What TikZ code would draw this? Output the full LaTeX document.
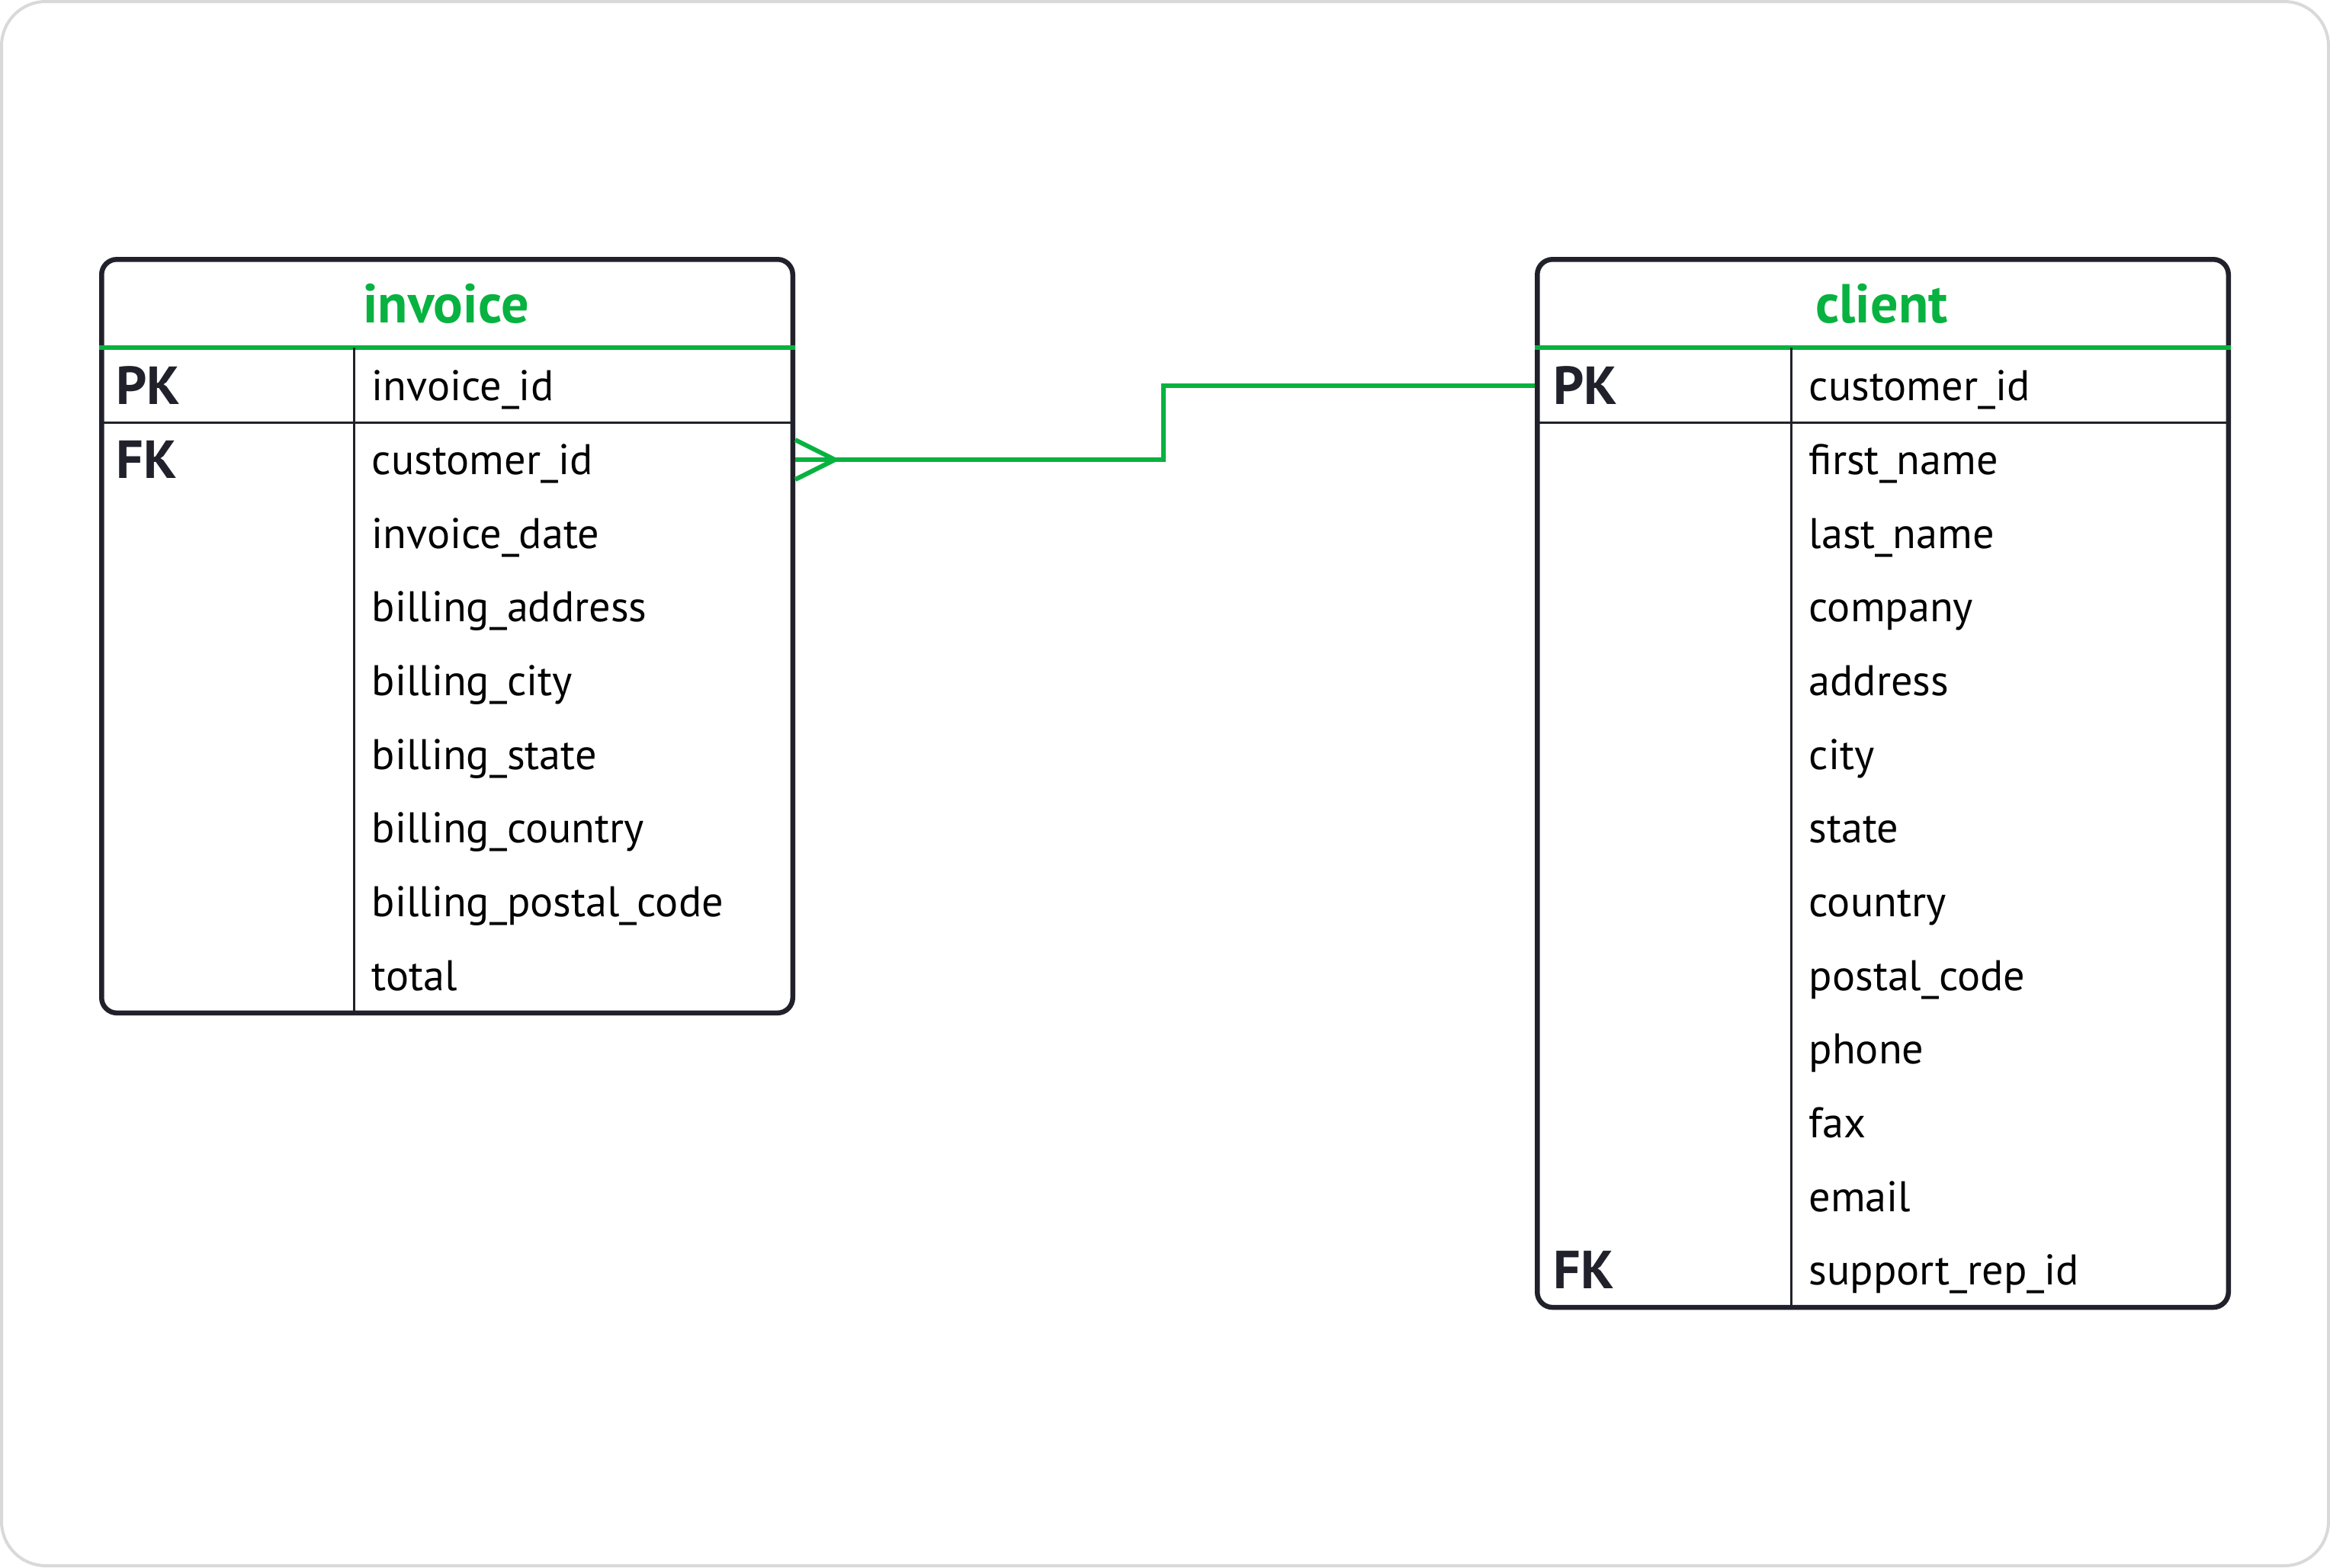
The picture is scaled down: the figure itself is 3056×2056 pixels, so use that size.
\documentclass[tikz,border=0pt]{standalone}
\usepackage{fontspec}
\setmainfont{PT Sans}
\definecolor{ergreen}{RGB}{8,178,64}
\definecolor{erink}{RGB}{33,33,43}
\definecolor{erframe}{RGB}{217,217,217}

\begin{document}
\begin{tikzpicture}[x=0.01cm,y=-0.01cm,font=\fontsize{16}{19}\selectfont,
	tablebox/.style={draw=erink,line width=0.065cm,rounded corners=0.2cm,inner sep=0pt,anchor=north west},
	rule/.style={erink,line width=0.03cm},
	headrule/.style={ergreen,line width=0.06cm},
	title/.style={anchor=base,text=ergreen,font=\fontsize{20.5}{24}\selectfont\bfseries},
	key/.style={anchor=west,inner sep=0pt,text depth=0pt,text=erink,font=\fontsize{20}{24}\selectfont\bfseries},
	field/.style={anchor=base west,inner sep=0pt,text=black},
	link/.style={ergreen,line width=0.06cm}]
\useasboundingbox (0,0) rectangle (3056,2056);
\draw[erframe,line width=0.04cm,rounded corners=0.58cm] (2,2) rectangle (3054,2054);

% invoice
\node[tablebox,minimum width=9.06cm,minimum height=9.88cm] (invoice) at (130,337) {};
\node[title] (invtitle) at (585,423) {invoice};
\draw[headrule] (invoice.west |- 0,456) -- (invoice.east |- 0,456);
\draw[rule] (invoice.west |- 0,554) -- (invoice.east |- 0,554);
\draw[rule] (464,456) -- (464,0 |- invoice.south);
\node[key] (ipk) at (152,506) {PK};
\node[key] (ifk) at (152,603) {FK};
\node[field] (if1) at (487,525) {invoice\_id};
\node[field] (if2) at (487,622) {customer\_id};
\node[field] (if3) at (487,719) {invoice\_date};
\node[field] (if4) at (487,815) {billing\_address};
\node[field] (if5) at (487,912) {billing\_city};
\node[field] (if6) at (487,1009) {billing\_state};
\node[field] (if7) at (487,1105) {billing\_country};
\node[field] (if8) at (487,1202) {billing\_postal\_code};
\node[field] (if9) at (487,1299) {total};

% client
\node[tablebox,minimum width=9.06cm,minimum height=13.74cm] (client) at (2013,337) {};
\node[title] (clititle) at (2468,423) {client};
\draw[headrule] (client.west |- 0,456) -- (client.east |- 0,456);
\draw[rule] (client.west |- 0,554) -- (client.east |- 0,554);
\draw[rule] (2349,456) -- (2349,0 |- client.south);
\node[key] (cpk) at (2037,506) {PK};
\node[key] (cfk) at (2037,1666) {FK};
\node[field] (cf1) at (2372,525) {customer\_id};
\node[field] (cf2) at (2372,622) {first\_name};
\node[field] (cf3) at (2372,719) {last\_name};
\node[field] (cf4) at (2372,815) {company};
\node[field] (cf5) at (2372,912) {address};
\node[field] (cf6) at (2372,1009) {city};
\node[field] (cf7) at (2372,1105) {state};
\node[field] (cf8) at (2372,1202) {country};
\node[field] (cf9) at (2372,1299) {postal\_code};
\node[field] (cf10) at (2372,1395) {phone};
\node[field] (cf11) at (2372,1492) {fax};
\node[field] (cf12) at (2372,1589) {email};
\node[field] (cf13) at (2372,1685) {support\_rep\_id};

% relation
\coordinate (bend) at (1526,0);
\draw[link] (client.west |- cpk) -| (bend |- ifk) -- (invoice.east |- ifk);
\draw[link] (invoice.east |- ifk) ++(0,-26) -- ++(52,26) -- ++(-52,26);
\end{tikzpicture}
\end{document}
